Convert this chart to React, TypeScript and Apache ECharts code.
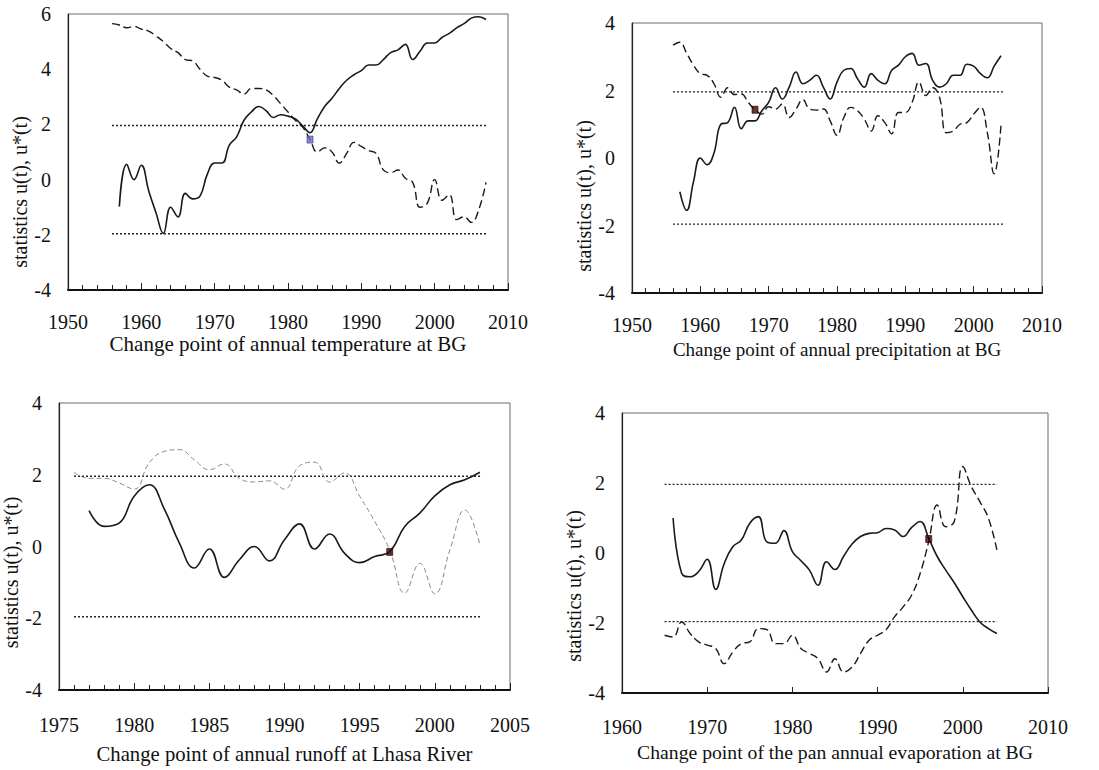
import React, { useEffect, useRef } from "react";
import * as echarts from "echarts";

// ---- Data ----
// Panel 1: annual temperature at BG
const tempUStart = 1957;
const tempU = [
  -0.98, 0.55, 0.0, 0.52, -0.4, -1.2, -1.95, -1.0, -1.35, -0.5,
  -0.7, -0.6, 0.2, 0.6, 0.6, 1.25, 1.55, 2.15, 2.45, 2.65,
  2.5, 2.25, 2.35, 2.3, 2.2, 1.95, 1.7, 2.2, 2.65, 2.95,
  3.3, 3.6, 3.8, 3.95, 4.15, 4.15, 4.35, 4.6, 4.7, 4.9,
  4.35, 4.65, 4.95, 4.95, 5.15, 5.3, 5.5, 5.65, 5.85, 5.9, 5.8,
];
const tempUStarStart = 1956;
const tempUStar = [
  5.65, 5.6, 5.5, 5.55, 5.45, 5.38, 5.2, 5.0, 4.75, 4.6,
  4.35, 4.3, 4.0, 3.75, 3.7, 3.6, 3.35, 3.25, 3.1, 3.3,
  3.3, 3.25, 3.05, 2.75, 2.45, 2.15, 1.9, 1.45, 1.0, 1.15,
  1.0, 0.6, 0.95, 1.35, 1.2, 1.05, 0.95, 0.35, 0.25, 0.35,
  0.05, -0.1, -1.0, -0.85, 0.0, -0.75, -0.55, -1.45, -1.35, -1.55,
  -1.1, -0.1,
];
const tempSpan = [1956, 2007];
const tempChange = [1983, 1.45];

// Panel 2: annual precipitation at BG
const precipUStart = 1957;
const precipU = [
  -1.0, -1.55, -0.7, 0.0, -0.2, 0.15, 1.0, 1.05, 1.5, 0.87,
  1.1, 1.1, 1.4, 1.65, 2.08, 1.75, 2.1, 2.55, 2.2, 2.3,
  2.45, 2.1, 1.75, 2.25, 2.6, 2.65, 2.35, 2.1, 2.5, 2.3,
  2.2, 2.6, 2.75, 3.0, 3.1, 2.75, 2.8, 2.3, 2.1, 2.2,
  2.45, 2.45, 2.78, 2.72, 2.5, 2.38, 2.72, 3.03,
];
const precipUStarStart = 1956;
const precipUStar = [
  3.34, 3.43, 3.1, 2.75, 2.5, 2.45, 2.2, 1.8, 2.08, 1.88,
  1.9, 1.65, 1.43, 1.3, 1.52, 1.45, 1.6, 1.2, 1.45, 1.73,
  1.45, 1.42, 1.45, 1.1, 0.67, 1.2, 1.5, 1.4, 1.15, 0.8,
  1.25, 1.05, 0.72, 1.35, 1.35, 1.65, 2.25, 1.85, 2.08, 1.8,
  0.75, 0.8, 1.0, 1.05, 1.3, 1.5, 0.75, -0.47, 0.97,
];
const precipSpan = [1956, 2004.4];
const precipChange = [1968, 1.43];

// Panel 3: annual runoff at Lhasa River
const runoffUStart = 1977;
const runoffU = [
  1.0, 0.56, 0.65, 1.4, 1.72, 1.05, 0.1, -0.6, -0.07, -0.86,
  -0.37, 0.0, -0.4, 0.19, 0.63, -0.07, 0.35, -0.19, -0.45, -0.28,
  -0.14, 0.56, 0.93, 1.41, 1.72, 1.86, 2.07,
];
const runoffUStarStart = 1976;
const runoffUStar = [
  2.07, 1.9, 1.9, 1.77, 1.6, 2.33, 2.65, 2.7, 2.42, 2.14,
  2.3, 1.9, 1.8, 1.83, 1.6, 2.25, 2.35, 1.8, 2.05, 1.4,
  0.7, -0.1, -1.3, -0.47, -1.32, -0.1, 1.02, 0.05,
];
const runoffSpan = [1976, 2003];
const runoffChange = [1997, -0.15];

// Panel 4: pan annual evaporation at BG
const evapUStart = 1966;
const evapU = [
  1.0, -0.58, -0.68, -0.53, -0.18, -1.04, -0.3, 0.18, 0.37, 0.85,
  1.04, 0.32, 0.28, 0.64, 0.04, -0.22, -0.49, -0.92, -0.25, -0.47,
  -0.1, 0.26, 0.47, 0.56, 0.58, 0.7, 0.66, 0.47, 0.73, 0.9,
  0.42, -0.1, -0.49, -0.85, -1.25, -1.63, -1.97, -2.16, -2.3,
];
const evapUStarStart = 1965;
const evapUStar = [
  -2.35, -2.4, -1.97, -2.3, -2.54, -2.63, -2.73, -3.16, -2.83, -2.59,
  -2.54, -2.16, -2.19, -2.59, -2.59, -2.35, -2.73, -2.87, -3.02, -3.4,
  -3.02, -3.4, -3.26, -2.87, -2.49, -2.35, -2.19, -1.82, -1.54, -1.2,
  -0.58, 0.33, 1.37, 0.75, 0.9, 2.47, 1.9, 1.47, 1.0, 0.09,
];
const evapSpan = [1965, 2004];
const evapChange = [1996, 0.4];

const criticalValue = 1.96;

const xTitles = [
  "Change point of annual temperature at BG",
  "Change point of annual precipitation at BG",
  "Change point of annual runoff at Lhasa River",
  "Change point of the pan annual evaporation at BG",
];
const yTitle = "statistics u(t), u*(t)";

const FONT = "Liberation Serif, Times New Roman, serif";

const pairs = (start: number, vals: number[]) => vals.map((v, i) => [start + i, v]);

const panels = [
  {
    grid: { left: 68, top: 14, width: 440, height: 276 },
    xMin: 1950, xMax: 2010, xInterval: 10, minorSplit: 5,
    yMin: -4, yMax: 6,
    u: pairs(tempUStart, tempU), us: pairs(tempUStarStart, tempUStar),
    span: tempSpan, cp: tempChange, cpColor: "#6b6bc4", cpBorder: "#3a3a80",
    labelMargin: 22, nameGap: 43, nameSize: 21, yNameGap: 38, yNameShift: 40, yLabelMargin: 17,
    dash: { color: "#1a1a1a", width: 1.4, type: [8, 4] as number[] },
  },
  {
    grid: { left: 632, top: 23, width: 410, height: 270 },
    xMin: 1950, xMax: 2010, xInterval: 10, minorSplit: 5,
    yMin: -4, yMax: 4,
    u: pairs(precipUStart, precipU), us: pairs(precipUStarStart, precipUStar),
    span: precipSpan, cp: precipChange, cpColor: "#3a0505", cpBorder: "#220000",
    labelMargin: 22, nameGap: 47, nameSize: 19, yNameGap: 36, yNameShift: 38, yLabelMargin: 17,
    dash: { color: "#1a1a1a", width: 1.4, type: [8, 4] as number[] },
  },
  {
    grid: { left: 59, top: 403, width: 451, height: 287 },
    xMin: 1975, xMax: 2005, xInterval: 5, minorSplit: 5,
    yMin: -4, yMax: 4,
    u: pairs(runoffUStart, runoffU), us: pairs(runoffUStarStart, runoffUStar),
    span: runoffSpan, cp: runoffChange, cpColor: "#3a0505", cpBorder: "#220000",
    labelMargin: 25, nameGap: 53, nameSize: 20.7, yNameGap: 35, yNameShift: 26, yLabelMargin: 17,
    dash: { color: "#8a8a8a", width: 1, type: [5, 3] as number[] },
  },
  {
    grid: { left: 622, top: 413, width: 426, height: 280 },
    xMin: 1960, xMax: 2010, xInterval: 10, minorSplit: 0,
    yMin: -4, yMax: 4,
    u: pairs(evapUStart, evapU), us: pairs(evapUStarStart, evapUStar),
    span: evapSpan, cp: evapChange, cpColor: "#3a0505", cpBorder: "#220000",
    labelMargin: 24, nameGap: 49, nameSize: 19.7, yNameGap: 36, yNameShift: 33, yLabelMargin: 17,
    dash: { color: "#1a1a1a", width: 1.4, type: [8, 4] as number[] },
  },
];

export default function App() {
  const ref = useRef<HTMLDivElement>(null);

  useEffect(() => {
    if (!ref.current) return;
    const chart = echarts.init(ref.current, null, { renderer: "svg" });

    const grid = panels.map((p) => ({
      ...p.grid,
      show: true,
      borderColor: "#6a6a6a",
      borderWidth: 1,
      backgroundColor: "transparent",
      containLabel: false,
    }));

    const xAxis = panels.map((p, i) => ({
      type: "value",
      gridIndex: i,
      min: p.xMin,
      max: p.xMax,
      interval: p.xInterval,
      name: xTitles[i],
      nameLocation: "middle",
      nameGap: p.nameGap,
      nameTextStyle: { fontFamily: FONT, fontSize: p.nameSize, color: "#111" },
      axisLine: { show: true, onZero: false, lineStyle: { color: "#111", width: 2 } },
      axisTick: { show: true, inside: true, length: p.minorSplit ? 7 : 6, lineStyle: { color: "#222", width: 1 } },
      minorTick: { show: p.minorSplit > 0, splitNumber: p.minorSplit || 5, length: 5, lineStyle: { color: "#222", width: 1 } },
      axisLabel: {
        fontFamily: FONT, fontSize: 20, color: "#111", margin: p.labelMargin,
        showMinLabel: true, showMaxLabel: true,
        formatter: (v: number) => String(v),
      },
      splitLine: { show: false },
    }));

    const yAxis = panels.map((p, i) => ({
      type: "value",
      gridIndex: i,
      min: p.yMin,
      max: p.yMax,
      interval: 2,
      name: yTitle,
      nameLocation: "middle",
      nameGap: p.yNameGap,
      nameTextStyle: {
        fontFamily: FONT, fontSize: 20, color: "#111",
        padding: [0, p.yNameShift * 2, 0, 0],
      },
      axisLine: { show: true, onZero: false, lineStyle: { color: "#222", width: 1.2 } },
      axisTick: { show: false },
      axisLabel: {
        fontFamily: FONT, fontSize: 20, color: "#111", margin: p.yLabelMargin,
        formatter: (v: number) => String(v),
      },
      splitLine: { show: false },
    }));

    const series: any[] = [];
    panels.forEach((p, i) => {
      series.push({
        type: "line",
        xAxisIndex: i,
        yAxisIndex: i,
        data: [[p.span[0], criticalValue], [p.span[1], criticalValue]],
        showSymbol: false,
        lineStyle: { color: "#222", width: 1.4, type: [2, 2] },
        silent: true,
      });
      series.push({
        type: "line",
        xAxisIndex: i,
        yAxisIndex: i,
        data: [[p.span[0], -criticalValue], [p.span[1], -criticalValue]],
        showSymbol: false,
        lineStyle: { color: "#222", width: 1.4, type: [2, 2] },
        silent: true,
      });
      series.push({
        type: "line",
        xAxisIndex: i,
        yAxisIndex: i,
        data: p.us,
        smooth: 0.45,
        showSymbol: false,
        lineStyle: { color: p.dash.color, width: p.dash.width, type: p.dash.type },
      });
      series.push({
        type: "line",
        xAxisIndex: i,
        yAxisIndex: i,
        data: p.u,
        smooth: 0.45,
        showSymbol: false,
        lineStyle: { color: "#1a1a1a", width: 1.6, type: "solid" },
      });
      series.push({
        type: "scatter",
        xAxisIndex: i,
        yAxisIndex: i,
        data: [p.cp],
        symbol: "rect",
        symbolSize: [6, 7],
        itemStyle: { color: p.cpColor, borderColor: p.cpBorder, borderWidth: 0.8 },
        z: 5,
      });
    });

    chart.setOption({
      animation: false,
      backgroundColor: "#ffffff",
      textStyle: { fontFamily: FONT },
      grid,
      xAxis,
      yAxis,
      series,
    });

    return () => chart.dispose();
  }, []);

  return (
    <div
      ref={ref}
      style={{ position: "fixed", left: 0, top: 0, width: 1099, height: 770, background: "#fff" }}
    />
  );
}
